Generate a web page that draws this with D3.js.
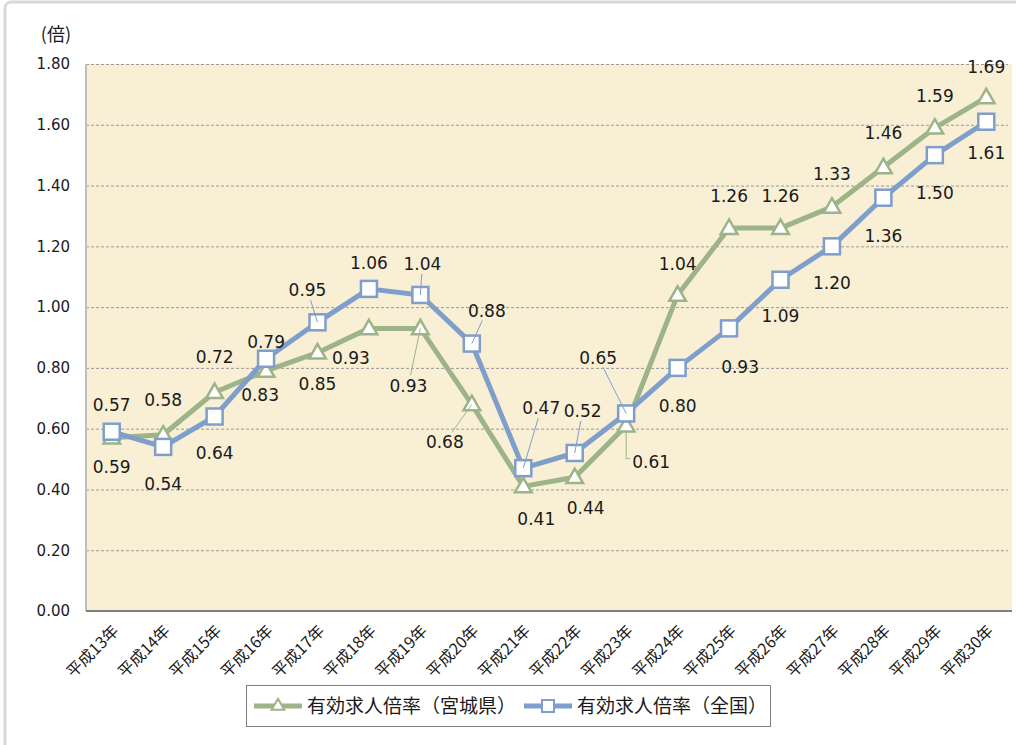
<!DOCTYPE html>
<html>
<head>
<meta charset="utf-8">
<script src="https://cdn.jsdelivr.net/npm/d3@7"></script>
<style>
  body { margin: 0; background: #fff; }
  svg { display: block; }
  .num { font-family: "DejaVu Sans", Verdana, sans-serif; }
  .jp { font-family: "Noto Sans CJK JP", sans-serif; }
</style>
</head>
<body>
<svg id="chart" width="1016" height="745"></svg>
<script>
// ---- data ----
const years = [
  "平成13年", "平成14年", "平成15年", "平成16年", "平成17年", "平成18年",
  "平成19年", "平成20年", "平成21年", "平成22年", "平成23年", "平成24年",
  "平成25年", "平成26年", "平成27年", "平成28年", "平成29年", "平成30年",
];
const miyagi = [0.57, 0.58, 0.72, 0.79, 0.85, 0.93, 0.93, 0.68, 0.41, 0.44,
  0.61, 1.04, 1.26, 1.26, 1.33, 1.46, 1.59, 1.69];
const national = [0.59, 0.54, 0.64, 0.83, 0.95, 1.06, 1.04, 0.88, 0.47, 0.52,
  0.65, 0.80, 0.93, 1.09, 1.20, 1.36, 1.50, 1.61];
const yTicks = [0, 0.2, 0.4, 0.6, 0.8, 1.0, 1.2, 1.4, 1.6, 1.8];
const seriesNames = ["有効求人倍率（宮城県）", "有効求人倍率（全国）"];
const unitLabel = "(倍)";

// label placement relative to the marker: [dx, dy, leader]  (0 none, 1 line, 2 elbow)
const miyagiLabelPos = [
  [0, -33, 0], [0, -35, 0], [0, -35, 0], [0, -29, 0], [0, 31, 0], [-18, 29, 0],
  [-12, 57, 1], [-27, 38, 1], [13, 32, 0], [11, 31, 0], [25, 36, 2], [0, -31, 0],
  [0, -32, 0], [0, -32, 0], [0, -33, 0], [0, -34, 0], [0, -32, 0], [0, -31, 0],
];
const nationalLabelPos = [
  [0, 35, 0], [0, 37, 0], [0, 36, 0], [-6, 36, 0], [-10, -32, 1], [0, -26, 0],
  [2, -31, 1], [15, -33, 1], [18, -60, 1], [8, -42, 1], [-28, -56, 1], [0, 38, 0],
  [11, 38, 0], [0, 36, 0], [0, 37, 0], [0, 38, 0], [0, 38, 0], [0, 31, 0],
];

const green = "#9db489";
const blue = "#7f9ecb";

const width = 1016;
const height = 745;
const marginTop = 64;
const marginRight = 4;
const marginBottom = 134;
const marginLeft = 86;

const svg = d3.select("#chart");

// outer frame
svg.append("rect")
  .attr("x", 5).attr("y", 2)
  .attr("width", 1040).attr("height", 790)
  .attr("rx", 6)
  .attr("fill", "none")
  .attr("stroke", "#d9d9d9")
  .attr("stroke-width", 3);

const x = d3.scaleBand()
  .domain(years)
  .range([marginLeft, width - marginRight]);

const y = d3.scaleLinear()
  .domain([0, 1.8])
  .range([height - marginBottom, marginTop]);

const cx = (i) => x(years[i]) + x.bandwidth() / 2;

// plot area
svg.append("rect")
  .attr("x", marginLeft).attr("y", marginTop)
  .attr("width", width - marginRight - marginLeft)
  .attr("height", height - marginBottom - marginTop)
  .attr("fill", "#f8efd4");

// grid
svg.append("g")
  .attr("transform", `translate(${marginLeft},0)`)
  .call(d3.axisLeft(y).tickValues(yTicks.slice(1))
    .tickSize(-(width - marginRight - marginLeft - 4)).tickFormat(""))
  .call((g) => g.select(".domain").remove())
  .call((g) => g.selectAll("line")
    .attr("stroke", "#9a9a9a")
    .attr("stroke-dasharray", "3,2"));

// y axis line
svg.append("line")
  .attr("x1", marginLeft).attr("x2", marginLeft)
  .attr("y1", marginTop).attr("y2", height - marginBottom)
  .attr("stroke", "#bfbfbf").attr("stroke-width", 2);

// y tick labels
svg.append("g")
  .attr("transform", `translate(${marginLeft - 2},0)`)
  .call(d3.axisLeft(y).tickValues(yTicks).tickSize(0).tickPadding(14)
    .tickFormat(d3.format(".2f")))
  .call((g) => g.select(".domain").remove())
  .call((g) => g.selectAll("text")
    .attr("class", "num")
    .attr("font-size", 15)
    .attr("fill", "#1a1a1a"));

svg.append("text")
  .attr("class", "jp")
  .attr("x", 71).attr("y", 41)
  .attr("text-anchor", "end")
  .attr("font-size", 18)
  .attr("fill", "#1a1a1a")
  .text(unitLabel);

// x axis
svg.append("line")
  .attr("x1", marginLeft).attr("x2", width - marginRight)
  .attr("y1", height - marginBottom).attr("y2", height - marginBottom)
  .attr("stroke", "#808080").attr("stroke-width", 2);

svg.append("g")
  .selectAll("text")
  .data(years)
  .join("text")
  .attr("class", "jp")
  .attr("font-size", 16)
  .attr("fill", "#1a1a1a")
  .attr("text-anchor", "end")
  .attr("transform", (d, i) => `translate(${cx(i) + 8},${height - marginBottom + 21}) rotate(-45)`)
  .text((d) => d);

// series
const line = d3.line()
  .x((d, i) => cx(i))
  .y((d) => y(d));

const triangle = d3.symbol().type(d3.symbolTriangle).size(120);

function drawSeries(values, color, marker) {
  svg.append("path")
    .datum(values)
    .attr("fill", "none")
    .attr("stroke", color)
    .attr("stroke-width", 5)
    .attr("stroke-linejoin", "round")
    .attr("d", line);

  const g = svg.append("g");
  if (marker === "triangle") {
    g.selectAll("path")
      .data(values)
      .join("path")
      .attr("d", triangle)
      .attr("transform", (d, i) => `translate(${cx(i)},${y(d) + 1})`)
      .attr("fill", "#fff")
      .attr("stroke", color)
      .attr("stroke-width", 2.5);
  } else {
    g.selectAll("rect")
      .data(values)
      .join("rect")
      .attr("x", (d, i) => cx(i) - 8)
      .attr("y", (d) => y(d) - 8)
      .attr("width", 16)
      .attr("height", 16)
      .attr("fill", "#fff")
      .attr("stroke", color)
      .attr("stroke-width", 2.5);
  }
}

drawSeries(miyagi, green, "triangle");
drawSeries(national, blue, "square");

function drawLabels(values, pos, color) {
  const g = svg.append("g");
  values.forEach((v, i) => {
    const px = cx(i);
    const py = y(v);
    const [dx, dy, leader] = pos[i];
    const lx = px + dx;
    const ly = py + dy;
    const hw = 21, hh = 10;
    if (leader === 1) {
      const vx = px - lx, vy = py - ly;
      const t = Math.min(hw / Math.abs(vx || 1e-6), hh / Math.abs(vy || 1e-6));
      g.append("line")
        .attr("x1", lx + vx * t).attr("y1", ly + vy * t)
        .attr("x2", px).attr("y2", py)
        .attr("stroke", color).attr("stroke-width", 1);
    } else if (leader === 2) {
      g.append("path")
        .attr("d", `M${px},${py + 6}V${ly - 3}H${lx - hw}`)
        .attr("fill", "none")
        .attr("stroke", color).attr("stroke-width", 1);
    }
    g.append("text")
      .attr("class", "num")
      .attr("x", lx).attr("y", ly)
      .attr("dy", "0.36em")
      .attr("text-anchor", "middle")
      .attr("font-size", 17)
      .attr("fill", "#1a1a1a")
      .text(d3.format(".2f")(v));
  });
}

drawLabels(miyagi, miyagiLabelPos, green);
drawLabels(national, nationalLabelPos, blue);

// legend
const legend = svg.append("g");
legend.append("rect")
  .attr("x", 246.5).attr("y", 685.5)
  .attr("width", 524).attr("height", 41)
  .attr("fill", "#fff")
  .attr("stroke", "#808080");

const legendItems = [
  { name: seriesNames[0], color: green, marker: "triangle", x: 254 },
  { name: seriesNames[1], color: blue, marker: "square", x: 524 },
];
legendItems.forEach((d) => {
  const ly = 706;
  legend.append("line")
    .attr("x1", d.x).attr("x2", d.x + 48)
    .attr("y1", ly).attr("y2", ly)
    .attr("stroke", d.color).attr("stroke-width", 5);
  if (d.marker === "triangle") {
    legend.append("path")
      .attr("d", d3.symbol().type(d3.symbolTriangle).size(70))
      .attr("transform", `translate(${d.x + 24},${ly})`)
      .attr("fill", "#fff").attr("stroke", d.color).attr("stroke-width", 2);
  } else {
    legend.append("rect")
      .attr("x", d.x + 18).attr("y", ly - 6)
      .attr("width", 12).attr("height", 12)
      .attr("fill", "#fff").attr("stroke", d.color).attr("stroke-width", 2);
  }
  legend.append("text")
    .attr("class", "jp")
    .attr("x", d.x + 53).attr("y", ly)
    .attr("dy", "0.36em")
    .attr("font-size", 19)
    .attr("fill", "#1a1a1a")
    .text(d.name);
});
</script>
</body>
</html>
